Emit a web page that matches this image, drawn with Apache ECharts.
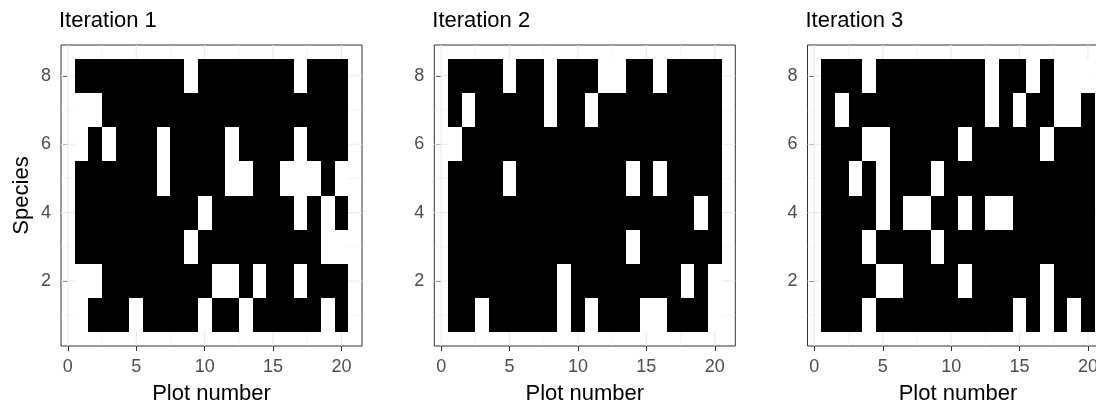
<!DOCTYPE html>
<html>
<head>
<meta charset="utf-8">
<script src="https://cdn.jsdelivr.net/npm/echarts@6/dist/echarts.min.js"></script>
<style>
  html, body { margin: 0; padding: 0; background: #ffffff; }
  #chart { width: 1096px; height: 406px; }
</style>
</head>
<body>
<div id="chart"></div>
<script>
// Plot numbers (columns) and species (rows)
const plots = [1, 2, 3, 4, 5, 6, 7, 8, 9, 10, 11, 12, 13, 14, 15, 16, 17, 18, 19, 20];
const species = [1, 2, 3, 4, 5, 6, 7, 8];

// Axis breaks
const xMajorTicks = [0, 5, 10, 15, 20];
const xMinorBreaks = [2.5, 7.5, 12.5, 17.5];
const yMajorTicks = [2, 4, 6, 8];
const yMinorBreaks = [1, 3, 5, 7];

const panelTitles = ['Iteration 1', 'Iteration 2', 'Iteration 3'];

// Presence (1) / absence (0): one row per species 1..8, one entry per plot 1..20
const iteration1 = [
  [0,1,1,1,0,1,1,1,1,0,1,1,0,1,1,1,1,1,0,1], // species 1
  [0,0,1,1,1,1,1,1,1,1,0,0,1,0,1,1,0,1,1,1], // species 2
  [1,1,1,1,1,1,1,1,0,1,1,1,1,1,1,1,1,1,0,0], // species 3
  [1,1,1,1,1,1,1,1,1,0,1,1,1,1,1,1,0,1,0,1], // species 4
  [1,1,1,1,1,1,0,1,1,1,1,0,0,1,1,0,0,0,1,0], // species 5
  [0,1,0,1,1,1,0,1,1,1,1,0,1,1,1,1,0,1,1,1], // species 6
  [0,0,1,1,1,1,1,1,1,1,1,1,1,1,1,1,1,1,1,1], // species 7
  [1,1,1,1,1,1,1,1,0,1,1,1,1,1,1,1,0,1,1,1]  // species 8
];
const iteration2 = [
  [1,1,0,1,1,1,1,1,0,1,0,1,1,1,0,0,1,1,1,0],
  [1,1,1,1,1,1,1,1,0,1,1,1,1,1,1,1,1,0,1,0],
  [1,1,1,1,1,1,1,1,1,1,1,1,1,0,1,1,1,1,1,1],
  [1,1,1,1,1,1,1,1,1,1,1,1,1,1,1,1,1,1,0,1],
  [1,1,1,1,0,1,1,1,1,1,1,1,1,0,1,0,1,1,1,1],
  [0,1,1,1,1,1,1,1,1,1,1,1,1,1,1,1,1,1,1,1],
  [1,0,1,1,1,1,1,0,1,1,0,1,1,1,1,1,1,1,1,1],
  [1,1,1,1,0,1,1,0,1,1,1,0,0,1,1,0,1,1,1,1]
];
const iteration3 = [
  [1,1,1,0,1,1,1,1,1,1,1,1,1,1,0,1,0,1,0,1],
  [1,1,1,1,0,0,1,1,1,1,0,1,1,1,1,1,0,1,1,1],
  [1,1,1,0,1,1,1,1,0,1,1,1,1,1,1,1,1,1,1,1],
  [1,1,1,1,0,1,0,0,1,1,0,1,0,0,1,1,1,1,1,1],
  [1,1,0,1,0,1,1,1,0,1,1,1,1,1,1,1,1,1,1,1],
  [1,1,1,0,0,1,1,1,1,1,0,1,1,1,1,1,0,1,1,1],
  [1,0,1,1,1,1,1,1,1,1,1,1,0,1,0,1,1,0,0,1],
  [1,1,1,0,1,1,1,1,1,1,1,1,0,1,1,0,1,0,0,0]
];
const iterations = [iteration1, iteration2, iteration3];

const FONT = 'Liberation Sans, Arial, sans-serif';
const panelLeft = [61, 434.3, 807.5];
const panelTop = 45, panelWidth = 301, panelHeight = 301;

const chart = echarts.init(document.getElementById('chart'), null, { renderer: 'canvas' });

const grids = [], xAxes = [], yAxes = [], series = [], titles = [];

// Light grey panel grid lines, drawn under the tiles
function renderGridLine(params, api) {
  const v = api.value(0);
  const major = api.value(1) === 1;
  const vertical = api.value(2) === 1;
  const cs = params.coordSys;
  const p = api.coord([v, v]);
  const shape = vertical
    ? { x1: p[0], y1: cs.y, x2: p[0], y2: cs.y + cs.height }
    : { x1: cs.x, y1: p[1], x2: cs.x + cs.width, y2: p[1] };
  return {
    type: 'line',
    shape: shape,
    style: { stroke: '#EBEBEB', lineWidth: major ? 1.1 : 0.55 }
  };
}

// One unit-square tile per plot/species cell, snapped to whole pixels so
// neighbouring tiles meet without seams
function renderTile(params, api) {
  const x = api.value(0), y = api.value(1), present = api.value(2) === 1;
  const a = api.coord([x - 0.5, y + 0.5]);
  const b = api.coord([x + 0.5, y - 0.5]);
  const x0 = Math.round(a[0]), y0 = Math.round(a[1]);
  const x1 = Math.round(b[0]), y1 = Math.round(b[1]);
  return {
    type: 'rect',
    shape: { x: x0, y: y0, width: x1 - x0, height: y1 - y0 },
    style: { fill: present ? '#000000' : '#FFFFFF' }
  };
}

iterations.forEach(function (matrix, i) {
  titles.push({
    text: panelTitles[i],
    left: panelLeft[i] - 2,
    top: 10,
    padding: 0,
    textStyle: { fontFamily: FONT, fontSize: 22, fontWeight: 'normal', color: '#000000' }
  });

  grids.push({
    left: panelLeft[i], top: panelTop, width: panelWidth, height: panelHeight,
    show: true, backgroundColor: '#FFFFFF', borderColor: '#333333', borderWidth: 1,
    containLabel: false, outerBoundsMode: 'none'
  });

  xAxes.push({
    type: 'value', gridIndex: i, min: -0.5, max: 21.5,
    axisLine: { show: false },
    axisTick: { show: true, customValues: xMajorTicks, length: 5, lineStyle: { color: '#333333', width: 1 } },
    axisLabel: { show: true, customValues: xMajorTicks, margin: 12, color: '#4D4D4D', fontSize: 18, fontFamily: FONT },
    splitLine: { show: false },
    name: 'Plot number', nameLocation: 'middle', nameGap: 37,
    nameTextStyle: { fontFamily: FONT, fontSize: 22, color: '#000000' }
  });

  const yAxis = {
    type: 'value', gridIndex: i, min: 0.1, max: 8.9,
    axisLine: { show: false },
    axisTick: { show: true, customValues: yMajorTicks, length: 5, lineStyle: { color: '#333333', width: 1 } },
    axisLabel: { show: true, customValues: yMajorTicks, margin: 10, color: '#4D4D4D', fontSize: 18, fontFamily: FONT },
    splitLine: { show: false }
  };
  if (i === 0) {
    yAxis.name = 'Species';
    yAxis.nameLocation = 'middle';
    yAxis.nameGap = 28;
    yAxis.nameTextStyle = { fontFamily: FONT, fontSize: 22, color: '#000000' };
  }
  yAxes.push(yAxis);

  const lines = []
    .concat(xMinorBreaks.map(v => [v, 0, 1]))
    .concat(xMajorTicks.map(v => [v, 1, 1]))
    .concat(yMinorBreaks.map(v => [v, 0, 0]))
    .concat(yMajorTicks.map(v => [v, 1, 0]));
  series.push({
    type: 'custom', xAxisIndex: i, yAxisIndex: i, silent: true, z: 1,
    renderItem: renderGridLine, data: lines, animation: false
  });

  const cells = [];
  species.forEach(function (s, r) {
    plots.forEach(function (p, c) {
      cells.push([p, s, matrix[r][c]]);
    });
  });
  series.push({
    type: 'custom', xAxisIndex: i, yAxisIndex: i, silent: true, z: 2,
    renderItem: renderTile, data: cells, animation: false
  });
});

chart.setOption({
  backgroundColor: '#FFFFFF',
  animation: false,
  title: titles,
  grid: grids,
  xAxis: xAxes,
  yAxis: yAxes,
  series: series
});
</script>
</body>
</html>
